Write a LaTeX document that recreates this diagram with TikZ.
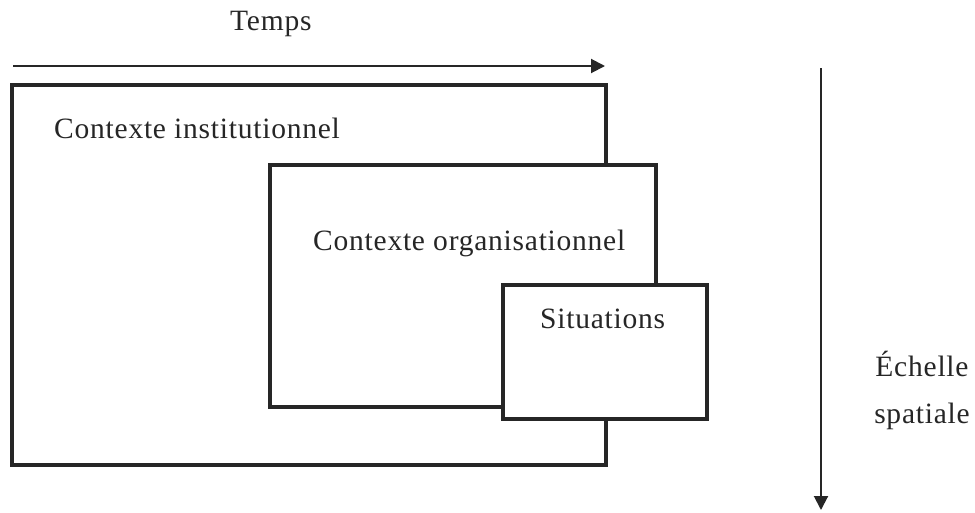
\documentclass[tikz,border=0pt]{standalone}
\usepackage{fontspec}
\setmainfont{Liberation Serif}[LetterSpace=2.6]
\usetikzlibrary{arrows.meta}
\begin{document}
\begin{tikzpicture}[x=1pt,y=-1pt,
  box/.style={draw=black!85, line width=4pt, fill=white, minimum width=#1, inner sep=0pt},
  lbl/.style={anchor=base west, inner sep=0pt, font=\fontsize{29.5}{34}\selectfont, text=black!85},
  axis/.style={draw=black!85, line width=2pt, -{Triangle[length=14pt,width=14pt]}}]
\useasboundingbox (0,0) rectangle (975,512);
\node[box=594pt, minimum height=380pt] (inst) at (309,275) {};
\node[box=386pt, minimum height=242pt] (org) at (463,286) {};
\node[box=204pt, minimum height=134pt] (sit) at (605,352) {};
\node[lbl] (tinst) at (54,138) {Contexte institutionnel};
\node[lbl] (torg) at (313,250) {Contexte organisationnel};
\node[lbl] (tsit) at (540,328) {Situations};
\node[lbl] (ttemps) at (230,30) {Temps};
\node[lbl, anchor=base] (tech) at (922,376) {Échelle};
\node[lbl, anchor=base] (tspa) at (922,423) {spatiale};
\coordinate (t0) at (13,66);
\coordinate (t1) at (605,66);
\coordinate (e0) at (821,68);
\coordinate (e1) at (821,510);
\draw[axis] (t0) -- (t1);
\draw[axis] (e0) -- (e1);
\end{tikzpicture}
\end{document}
